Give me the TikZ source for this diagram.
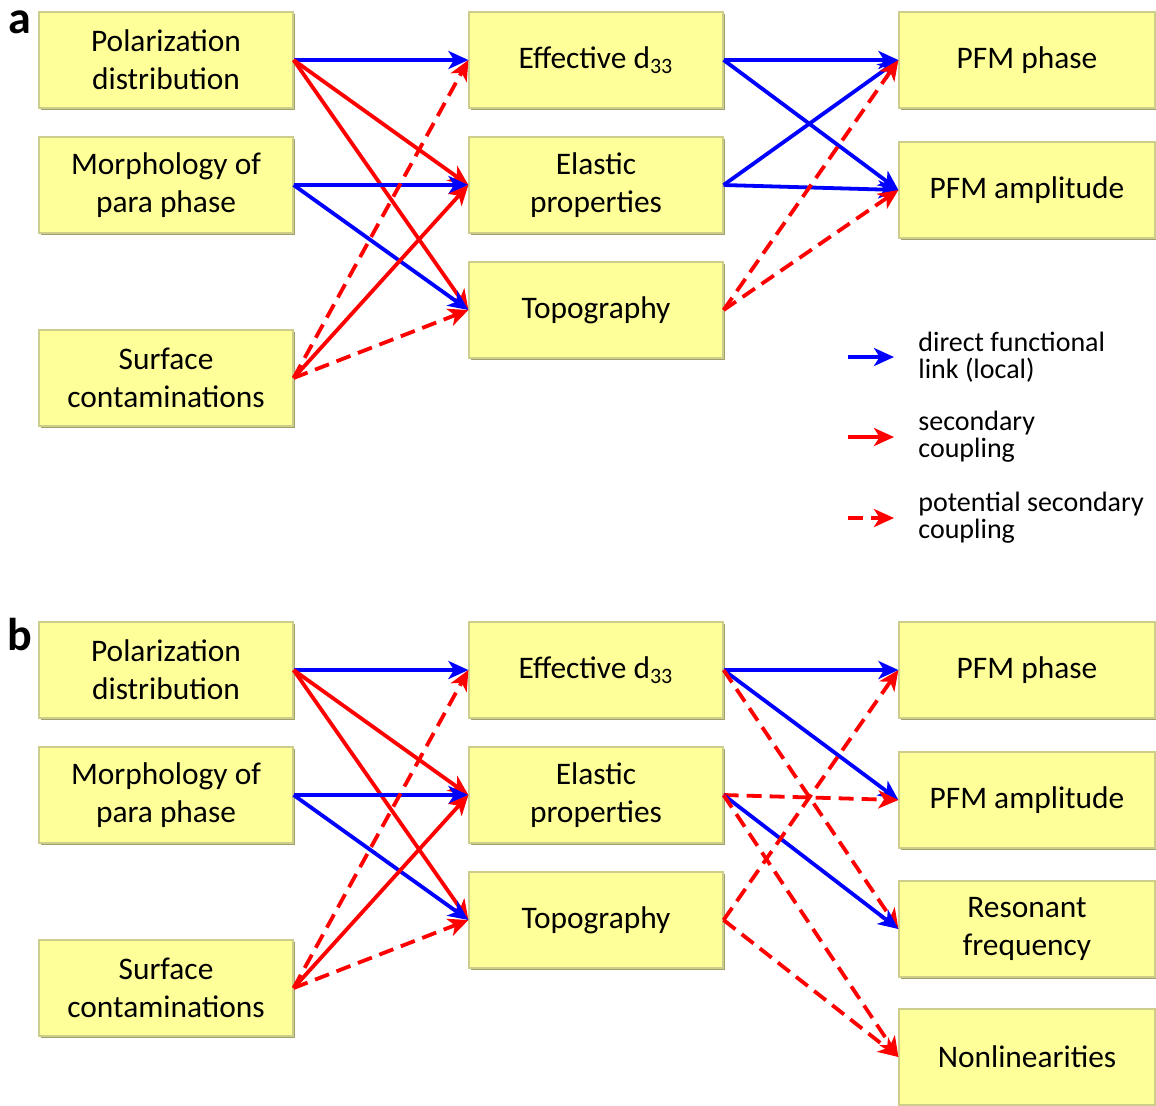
\documentclass[tikz,border=0pt]{standalone}
\usepackage{fontspec}
\setmainfont{Carlito}
\usepackage{tikz}
\usetikzlibrary{arrows.meta,shadows}
\definecolor{BoxYellow}{RGB}{255,255,153}
\definecolor{BoxEdge}{RGB}{205,205,140}
\definecolor{BoxShade}{RGB}{150,150,90}
\definecolor{LinkBlue}{RGB}{0,0,255}
\definecolor{LinkRed}{RGB}{255,0,0}
\tikzset{
  ybox/.style={draw=BoxEdge,fill=BoxYellow,line width=0.6pt,
               minimum width=127pt,minimum height=48pt,
               font=\fontsize{15.7}{19}\selectfont,align=center,
               drop shadow={shadow xshift=1.1pt,shadow yshift=-1.1pt,
                            fill=BoxShade,opacity=0.9}},
  wbox/.style={ybox,minimum width=128pt},
  arrb/.style={-{Stealth[length=10pt,width=9pt,inset=2.8pt]},LinkBlue,line width=1.9pt},
  arrr/.style={-{Stealth[length=10pt,width=9pt,inset=2.8pt]},LinkRed,line width=1.9pt},
  arrd/.style={arrr,dash pattern=on 7.5pt off 4pt},
  legtext/.style={font=\fontsize{14}{13.5}\selectfont,align=left,
                  anchor=west,inner sep=0pt},
  panel/.style={font=\fontsize{23}{23}\selectfont\bfseries,inner sep=0pt},
}
\begin{document}
\begin{tikzpicture}[x=0.5pt,y=-0.5pt]
  \useasboundingbox (0,0) rectangle (1156,1105);

  % panel a
  \node[panel] (labA) at (20,22) {a};
  \node[ybox] (polA) at (166,60) {Polarization\\distribution};
  \node[ybox] (morA) at (166,185) {Morphology of\\para phase};
  \node[ybox] (surA) at (166,378) {Surface\\contaminations};
  \node[ybox] (effA) at (596,60) {Effective d\textsubscript{33}};
  \node[ybox] (elaA) at (596,185) {Elastic\\properties};
  \node[ybox] (topA) at (596,310) {Topography};
  \node[wbox] (phaA) at (1027,60) {PFM phase};
  \node[wbox] (ampA) at (1027,190) {PFM amplitude};

  \draw[arrb] (polA.east) -- (effA.west);
  \draw[arrr] (polA.east) -- (elaA.west);
  \draw[arrr] (polA.east) -- (topA.west);
  \draw[arrb] (morA.east) -- (elaA.west);
  \draw[arrb] (morA.east) -- (topA.west);
  \draw[arrd] (surA.east) -- (effA.west);
  \draw[arrr] (surA.east) -- (elaA.west);
  \draw[arrd] (surA.east) -- (topA.west);

  \draw[arrb] (effA.east) -- (phaA.west);
  \draw[arrb] (effA.east) -- (ampA.west);
  \draw[arrb] (elaA.east) -- (phaA.west);
  \draw[arrb] (elaA.east) -- (ampA.west);
  \draw[arrd] (topA.east) -- (phaA.west);
  \draw[arrd] (topA.east) -- (ampA.west);

  % legend
  \node[legtext] (lgBlue) at (918,357) {direct functional\\link (local)};
  \node[legtext] (lgRed) at (918,437) {secondary\\coupling};
  \node[legtext] (lgDash) at (918,518) {potential secondary\\coupling};
  \coordinate (lgBlueS) at (848,357);
  \coordinate (lgRedS) at (848,437);
  \coordinate (lgDashS) at (848,518);
  \draw[arrb,shorten >=12pt] (lgBlueS) -- (lgBlue.west);
  \draw[arrr,shorten >=12pt] (lgRedS) -- (lgRed.west);
  \draw[arrd,shorten >=12pt] (lgDashS) -- (lgDash.west);

  % panel b
  \node[panel] (labB) at (20,635) {b};
  \node[ybox] (polB) at (166,670) {Polarization\\distribution};
  \node[ybox] (morB) at (166,795) {Morphology of\\para phase};
  \node[ybox] (surB) at (166,988) {Surface\\contaminations};
  \node[ybox] (effB) at (596,670) {Effective d\textsubscript{33}};
  \node[ybox] (elaB) at (596,795) {Elastic\\properties};
  \node[ybox] (topB) at (596,920) {Topography};
  \node[wbox] (phaB) at (1027,670) {PFM phase};
  \node[wbox] (ampB) at (1027,800) {PFM amplitude};
  \node[wbox] (resB) at (1027,929) {Resonant\\frequency};
  \node[wbox] (nonB) at (1027,1057) {Nonlinearities};

  \draw[arrb] (polB.east) -- (effB.west);
  \draw[arrr] (polB.east) -- (elaB.west);
  \draw[arrr] (polB.east) -- (topB.west);
  \draw[arrb] (morB.east) -- (elaB.west);
  \draw[arrb] (morB.east) -- (topB.west);
  \draw[arrd] (surB.east) -- (effB.west);
  \draw[arrr] (surB.east) -- (elaB.west);
  \draw[arrd] (surB.east) -- (topB.west);

  \draw[arrb] (effB.east) -- (phaB.west);
  \draw[arrb] (effB.east) -- (ampB.west);
  \draw[arrd] (effB.east) -- (resB.west);
  \draw[arrd] (elaB.east) -- (ampB.west);
  \draw[arrb] (elaB.east) -- (resB.west);
  \draw[arrd] (elaB.east) -- (nonB.west);
  \draw[arrd] (topB.east) -- (phaB.west);
  \draw[arrd] (topB.east) -- (nonB.west);
\end{tikzpicture}
\end{document}
